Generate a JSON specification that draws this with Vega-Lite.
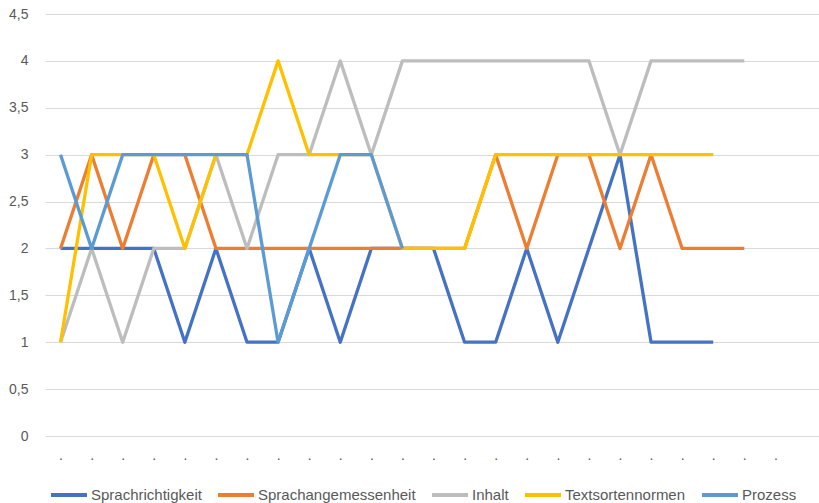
{
  "$schema": "https://vega.github.io/schema/vega-lite/v6.json",
  "width": 777,
  "height": 422,
  "autosize": {"type": "none"},
  "padding": {"left": 45, "top": 14, "right": 0, "bottom": 67},
  "background": "white",
  "config": {
    "view": {"stroke": null},
    "font": "Liberation Sans"
  },
  "data": {
    "values": [
      {"series": "Sprachrichtigkeit", "t": 1, "v": 2},
      {"series": "Sprachrichtigkeit", "t": 2, "v": 2},
      {"series": "Sprachrichtigkeit", "t": 3, "v": 2},
      {"series": "Sprachrichtigkeit", "t": 4, "v": 2},
      {"series": "Sprachrichtigkeit", "t": 5, "v": 1},
      {"series": "Sprachrichtigkeit", "t": 6, "v": 2},
      {"series": "Sprachrichtigkeit", "t": 7, "v": 1},
      {"series": "Sprachrichtigkeit", "t": 8, "v": 1},
      {"series": "Sprachrichtigkeit", "t": 9, "v": 2},
      {"series": "Sprachrichtigkeit", "t": 10, "v": 1},
      {"series": "Sprachrichtigkeit", "t": 11, "v": 2},
      {"series": "Sprachrichtigkeit", "t": 12, "v": 2},
      {"series": "Sprachrichtigkeit", "t": 13, "v": 2},
      {"series": "Sprachrichtigkeit", "t": 14, "v": 1},
      {"series": "Sprachrichtigkeit", "t": 15, "v": 1},
      {"series": "Sprachrichtigkeit", "t": 16, "v": 2},
      {"series": "Sprachrichtigkeit", "t": 17, "v": 1},
      {"series": "Sprachrichtigkeit", "t": 18, "v": 2},
      {"series": "Sprachrichtigkeit", "t": 19, "v": 3},
      {"series": "Sprachrichtigkeit", "t": 20, "v": 1},
      {"series": "Sprachrichtigkeit", "t": 21, "v": 1},
      {"series": "Sprachrichtigkeit", "t": 22, "v": 1},
      {"series": "Sprachangemessenheit", "t": 1, "v": 2},
      {"series": "Sprachangemessenheit", "t": 2, "v": 3},
      {"series": "Sprachangemessenheit", "t": 3, "v": 2},
      {"series": "Sprachangemessenheit", "t": 4, "v": 3},
      {"series": "Sprachangemessenheit", "t": 5, "v": 3},
      {"series": "Sprachangemessenheit", "t": 6, "v": 2},
      {"series": "Sprachangemessenheit", "t": 7, "v": 2},
      {"series": "Sprachangemessenheit", "t": 8, "v": 2},
      {"series": "Sprachangemessenheit", "t": 9, "v": 2},
      {"series": "Sprachangemessenheit", "t": 10, "v": 2},
      {"series": "Sprachangemessenheit", "t": 11, "v": 2},
      {"series": "Sprachangemessenheit", "t": 12, "v": 2},
      {"series": "Sprachangemessenheit", "t": 13, "v": 2},
      {"series": "Sprachangemessenheit", "t": 14, "v": 2},
      {"series": "Sprachangemessenheit", "t": 15, "v": 3},
      {"series": "Sprachangemessenheit", "t": 16, "v": 2},
      {"series": "Sprachangemessenheit", "t": 17, "v": 3},
      {"series": "Sprachangemessenheit", "t": 18, "v": 3},
      {"series": "Sprachangemessenheit", "t": 19, "v": 2},
      {"series": "Sprachangemessenheit", "t": 20, "v": 3},
      {"series": "Sprachangemessenheit", "t": 21, "v": 2},
      {"series": "Sprachangemessenheit", "t": 22, "v": 2},
      {"series": "Sprachangemessenheit", "t": 23, "v": 2},
      {"series": "Inhalt", "t": 1, "v": 1},
      {"series": "Inhalt", "t": 2, "v": 2},
      {"series": "Inhalt", "t": 3, "v": 1},
      {"series": "Inhalt", "t": 4, "v": 2},
      {"series": "Inhalt", "t": 5, "v": 2},
      {"series": "Inhalt", "t": 6, "v": 3},
      {"series": "Inhalt", "t": 7, "v": 2},
      {"series": "Inhalt", "t": 8, "v": 3},
      {"series": "Inhalt", "t": 9, "v": 3},
      {"series": "Inhalt", "t": 10, "v": 4},
      {"series": "Inhalt", "t": 11, "v": 3},
      {"series": "Inhalt", "t": 12, "v": 4},
      {"series": "Inhalt", "t": 13, "v": 4},
      {"series": "Inhalt", "t": 14, "v": 4},
      {"series": "Inhalt", "t": 15, "v": 4},
      {"series": "Inhalt", "t": 16, "v": 4},
      {"series": "Inhalt", "t": 17, "v": 4},
      {"series": "Inhalt", "t": 18, "v": 4},
      {"series": "Inhalt", "t": 19, "v": 3},
      {"series": "Inhalt", "t": 20, "v": 4},
      {"series": "Inhalt", "t": 21, "v": 4},
      {"series": "Inhalt", "t": 22, "v": 4},
      {"series": "Inhalt", "t": 23, "v": 4},
      {"series": "Textsortennormen", "t": 1, "v": 1},
      {"series": "Textsortennormen", "t": 2, "v": 3},
      {"series": "Textsortennormen", "t": 3, "v": 3},
      {"series": "Textsortennormen", "t": 4, "v": 3},
      {"series": "Textsortennormen", "t": 5, "v": 2},
      {"series": "Textsortennormen", "t": 6, "v": 3},
      {"series": "Textsortennormen", "t": 7, "v": 3},
      {"series": "Textsortennormen", "t": 8, "v": 4},
      {"series": "Textsortennormen", "t": 9, "v": 3},
      {"series": "Textsortennormen", "t": 10, "v": 3},
      {"series": "Textsortennormen", "t": 11, "v": 3},
      {"series": "Textsortennormen", "t": 12, "v": 2},
      {"series": "Textsortennormen", "t": 13, "v": 2},
      {"series": "Textsortennormen", "t": 14, "v": 2},
      {"series": "Textsortennormen", "t": 15, "v": 3},
      {"series": "Textsortennormen", "t": 16, "v": 3},
      {"series": "Textsortennormen", "t": 17, "v": 3},
      {"series": "Textsortennormen", "t": 18, "v": 3},
      {"series": "Textsortennormen", "t": 19, "v": 3},
      {"series": "Textsortennormen", "t": 20, "v": 3},
      {"series": "Textsortennormen", "t": 21, "v": 3},
      {"series": "Textsortennormen", "t": 22, "v": 3},
      {"series": "Prozess", "t": 1, "v": 3},
      {"series": "Prozess", "t": 2, "v": 2},
      {"series": "Prozess", "t": 3, "v": 3},
      {"series": "Prozess", "t": 4, "v": 3},
      {"series": "Prozess", "t": 5, "v": 3},
      {"series": "Prozess", "t": 6, "v": 3},
      {"series": "Prozess", "t": 7, "v": 3},
      {"series": "Prozess", "t": 8, "v": 1},
      {"series": "Prozess", "t": 9, "v": 2},
      {"series": "Prozess", "t": 10, "v": 3},
      {"series": "Prozess", "t": 11, "v": 3},
      {"series": "Prozess", "t": 12, "v": 2}
    ]
  },
  "mark": {"type": "line", "strokeWidth": 3.3, "strokeJoin": "round"},
  "encoding": {
    "x": {
      "field": "t",
      "type": "ordinal",
      "sort": null,
      "scale": {"domain": [1,2,3,4,5,6,7,8,9,10,11,12,13,14,15,16,17,18,19,20,21,22,23,24,25], "padding": 0.5},
      "axis": {
        "title": null,
        "domain": false,
        "ticks": false,
        "tickSize": 0,
        "grid": false,
        "labelAngle": 0,
        "labelPadding": 12,
        "labelFontSize": 14,
        "labelColor": "#595959",
        "labelExpr": "datum.value == 25 ? '' : '.'"
      }
    },
    "y": {
      "field": "v",
      "type": "quantitative",
      "scale": {"domain": [0, 4.5], "nice": false, "zero": true},
      "axis": {
        "title": null,
        "values": [0, 0.5, 1, 1.5, 2, 2.5, 3, 3.5, 4, 4.5],
        "format": ".2~f",
        "labelExpr": "replace(datum.label, '.', ',')",
        "domain": false,
        "ticks": false,
        "tickSize": 0,
        "labelPadding": 17,
        "labelFontSize": 14,
        "labelColor": "#595959",
        "gridColor": "#d9d9d9",
        "gridWidth": 1
      }
    },
    "color": {
      "field": "series",
      "type": "nominal",
      "sort": null,
      "scale": {
        "domain": ["Sprachrichtigkeit", "Sprachangemessenheit", "Inhalt", "Textsortennormen", "Prozess"],
        "range": ["#4472C4", "#ED7D31", "#BDBDBD", "#FFC000", "#5B9BD5"]
      },
      "legend": {
        "title": null,
        "orient": "none",
        "direction": "horizontal",
        "columns": 5,
        "gridAlign": "none",
        "legendX": 4,
        "legendY": 461,
        "symbolType": "stroke",
        "symbolStrokeWidth": 4,
        "symbolSize": 1296,
        "labelOffset": 2,
        "columnPadding": 8,
        "labelFontSize": 15,
        "labelColor": "#595959",
        "labelLimit": 300
      }
    }
  }
}
